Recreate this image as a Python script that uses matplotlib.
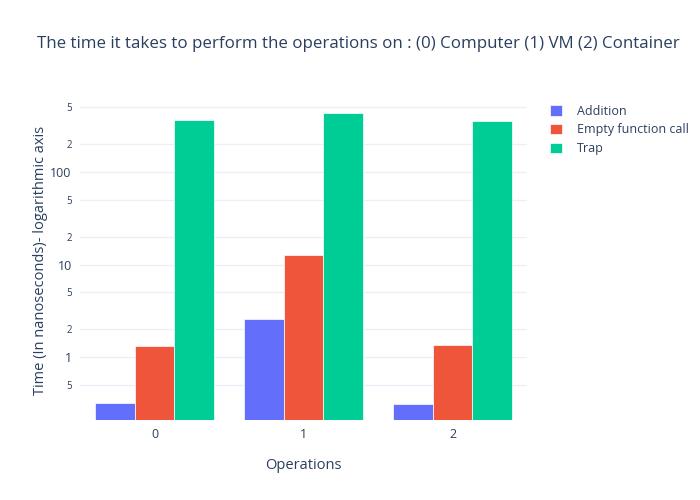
import matplotlib
matplotlib.use('Agg')
import matplotlib.pyplot as plt
import numpy as np

plt.rcParams['font.family'] = ['Open Sans', 'DejaVu Sans']

categories = ['0', '1', '2']
series_names = ['Addition', 'Empty function call', 'Trap']
addition = [0.32, 2.57, 0.31]
empty_call = [1.31, 12.6, 1.36]
trap = [365, 434, 356]

colors = ['#636efa', '#EF553B', '#00cc96']
text_color = '#2a3f5f'
tick_color = '#2a3f5f'
grid_color = '#ebf0f8'

fig = plt.figure(figsize=(7, 5), dpi=100)
ax = fig.add_axes([80/700, 80/500, 447/700, 320/500])

x = np.arange(len(categories))
width = 0.8 / 3
for i, (name, vals) in enumerate(zip(series_names, [addition, empty_call, trap])):
    ax.bar(x + (i - 1) * width, vals, width, color=colors[i], label=name,
           edgecolor='white', linewidth=0.5, zorder=3)

ax.set_yscale('log')
ax.set_ylim(10 ** -0.68, 10 ** 2.778)
ax.set_xlim(-0.5, 2.5)

# major ticks 1, 10, 100 and minor 2, 5 labels like plotly
major = [1, 10, 100]
minor = [0.5, 2, 5, 20, 50, 200, 500]
minor_labels = ['5', '2', '5', '2', '5', '2', '5']
ax.set_yticks(major)
ax.set_yticklabels(['1', '10', '100'])
ax.set_yticks(minor, minor=True)
ax.set_yticklabels(minor_labels, minor=True, fontsize=7)
ax.tick_params(axis='y', which='both', length=0, pad=6, labelcolor=tick_color)
ax.tick_params(axis='y', which='major', labelsize=9)
ax.grid(True, axis='y', which='both', color=grid_color, linewidth=1, zorder=0)

ax.set_xticks(x)
ax.set_xticklabels(categories)
ax.tick_params(axis='x', length=0, pad=6, labelsize=9, labelcolor=tick_color)

for s in ax.spines.values():
    s.set_visible(False)

ax.set_xlabel('Operations', fontsize=10.5, color=text_color, labelpad=12)
ax.set_ylabel('Time (In nanoseconds)- logarithmic axis', fontsize=10.5,
              color=text_color, labelpad=2)

fig.text(358/700, 1 - 44/500,
         'The time it takes to perform the operations on : (0) Computer (1) VM (2) Container',
         ha='center', va='center', fontsize=12.2, color=text_color)

leg = ax.legend(loc='upper left', bbox_to_anchor=(1.027, 1.02), frameon=False,
                fontsize=9, handlelength=0.9, handleheight=0.9,
                labelspacing=0.45, handletextpad=1.2)
for t in leg.get_texts():
    t.set_color(text_color)

fig.savefig('out.png', dpi=100)
